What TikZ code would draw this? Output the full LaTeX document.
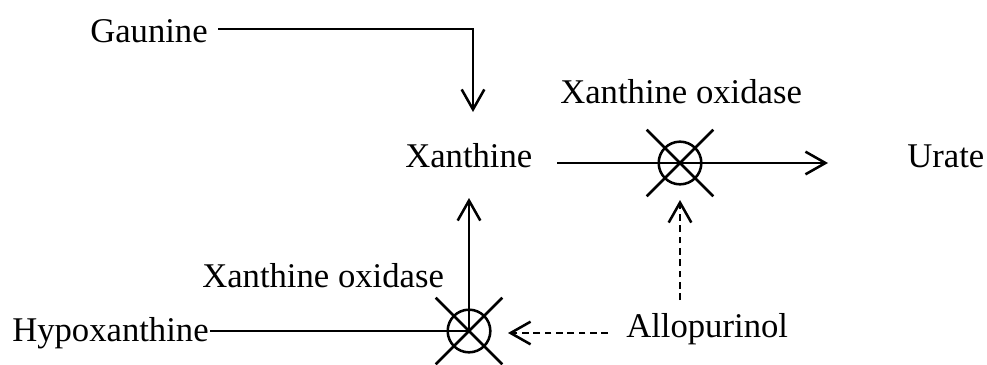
\documentclass[tikz,border=0pt]{standalone}
\usepackage{fontspec}
\setmainfont{Liberation Serif}
\usetikzlibrary{arrows.meta}
\begin{document}
\begin{tikzpicture}[x=0.75pt,y=-0.75pt,
  lbl/.style={anchor=base west,inner sep=0pt,font=\fontsize{26}{30}\selectfont},
  ln/.style={line width=1.9pt},
  arr/.style={ln,-{Straight Barb[length=15pt,width=17pt,line width=1.9pt]}},
  dsh/.style={arr,dash pattern=on 5pt off 3.5pt},
  inh/.style={circle,draw,line width=1.9pt,minimum size=32pt,inner sep=0pt},
  cross/.style={line width=1.9pt}]
\useasboundingbox (0,0) rectangle (987,364);
% labels
\node[lbl] (gaunine) at (90,42) {Gaunine};
\node[lbl] (xanthine) at (405,167) {Xanthine};
\node[lbl] (urate) at (907,167) {Urate};
\node[lbl] (xotop) at (560,103) {Xanthine oxidase};
\node[lbl] (xobot) at (202,287) {Xanthine oxidase};
\node[lbl] (hypo) at (12,341) {Hypoxanthine};
\node[lbl] (allo) at (626,337) {Allopurinol};
% inhibition symbols
\node[inh] (c1) at (680,163) {};
\node[inh] (c2) at (469,331) {};
\draw[cross] ([shift={(-25pt,-25pt)}]c1.center) -- ([shift={(25pt,25pt)}]c1.center);
\draw[cross] ([shift={(-25pt,25pt)}]c1.center) -- ([shift={(25pt,-25pt)}]c1.center);
\draw[cross] ([shift={(-25pt,-25pt)}]c2.center) -- ([shift={(25pt,25pt)}]c2.center);
\draw[cross] ([shift={(-25pt,25pt)}]c2.center) -- ([shift={(25pt,-25pt)}]c2.center);
% connector points
\coordinate (g1) at (218,29);
\coordinate (g2) at (473,29);
\coordinate (gtip) at (473,112);
\coordinate (x1) at (557,163);
\coordinate (xtip) at (828,163);
\coordinate (h1) at (210,331);
\coordinate (vtip) at (469,198);
\coordinate (a1) at (608,333);
\coordinate (atip) at (508,333);
\coordinate (a2) at (680,300);
\coordinate (a2tip) at (680,200);
% connectors
\draw[arr] (g1) -- (g2) -- (gtip);
\draw[arr] (x1) -- (c1.center) -- (xtip);
\draw[ln] (h1) -- (c2.center);
\draw[arr] (c2.center) -- (vtip);
\draw[dsh] (a1) -- (atip);
\draw[dsh] (a2) -- (a2tip);
\end{tikzpicture}
\end{document}
